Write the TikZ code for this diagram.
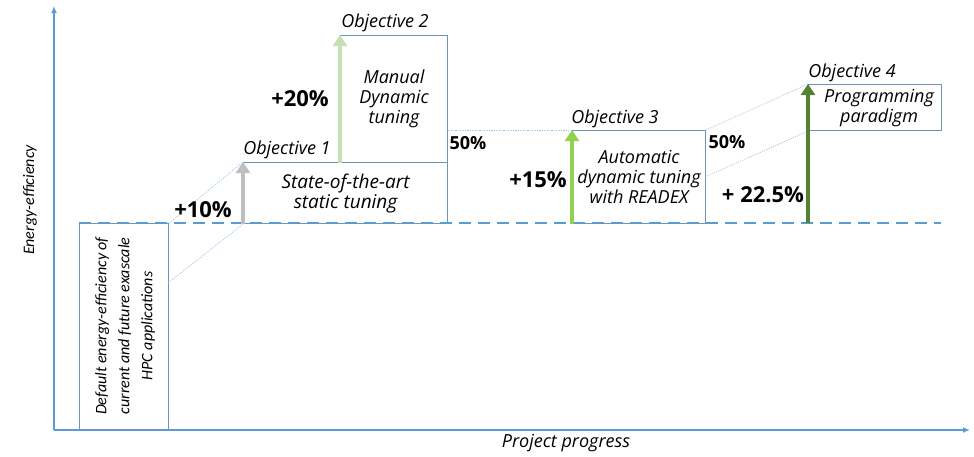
\documentclass[tikz,border=0pt]{standalone}
\usepackage{fontspec}
\setmainfont{Open Sans}
\newfontfamily\calfont{Carlito}
\usetikzlibrary{arrows.meta}
\definecolor{axisblue}{RGB}{91,155,213}
\definecolor{boxblue}{RGB}{112,146,190}
\definecolor{dotblue}{RGB}{157,195,230}
\definecolor{objgray}{RGB}{191,191,191}
\definecolor{objlg}{RGB}{197,224,180}
\definecolor{objg}{RGB}{146,208,80}
\definecolor{objdg}{RGB}{84,130,53}
\begin{document}
\begin{tikzpicture}[x=1pt,y=-1pt,
  box/.style={draw=boxblue, line width=1.1pt, rectangle, inner sep=0pt, anchor=north west, align=center,
    font=\itshape\fontsize{18}{20}\selectfont},
  axisline/.style={draw=axisblue, line width=1.3pt, -{Latex[length=7pt,width=6pt]}},
  baseline/.style={draw=axisblue, line width=2.8pt, dash pattern=on 12pt off 7pt},
  link/.style={draw=dotblue, line width=0.7pt, dash pattern=on 1.2pt off 1.2pt},
  objarrow/.style={line width=4.6pt, -{Triangle[width=14pt,length=11pt]}},
  objlabel/.style={font=\itshape\fontsize{18}{20}\selectfont, inner sep=0pt},
  pct/.style={font=\bfseries\fontsize{22}{24}\selectfont, inner sep=0pt},
  pctsmall/.style={font=\bfseries\fontsize{18}{20}\selectfont, inner sep=0pt},
  axislabel/.style={font=\itshape\fontsize{18}{20}\selectfont, inner sep=0pt}
]
\useasboundingbox (0,0) rectangle (974,456);

% axes
\coordinate (O) at (54,430);
\coordinate (ytop) at (54,6);
\coordinate (xend) at (970,430);
\draw[axisline] (O) -- (ytop);
\draw[axisline] (O) -- (xend);
\node[font=\calfont\itshape\fontsize{16}{18}\selectfont, rotate=90, inner sep=0pt] (ylab) at (30,200) {Energy-efficiency};
\node[axislabel] (xlab) at (566,443) {Project progress};

% boxes
\node[box, minimum width=89pt, minimum height=206pt] (dbox) at (79,223) {};
\node[rotate=90, align=center, inner sep=0pt, font=\calfont\itshape\fontsize{16}{23}\selectfont] (dtext) at (125,326)
  {Default energy-efficiency of\\current and future exascale\\HPC applications};
\node[box, minimum width=204pt, minimum height=61pt, font=\itshape\fontsize{19}{20}\selectfont] (b1) at (243,162) {State-of-the-art\\static tuning};
\node[box, minimum width=107pt, minimum height=127pt] (b2) at (340,35) {Manual\\Dynamic\\tuning};
\node[box, minimum width=133pt, minimum height=93pt] (b3) at (572,130) {Automatic\\dynamic tuning\\with READEX};
\node[box, minimum width=133pt, minimum height=46pt] (b4) at (808,84) {\hspace*{8pt}Programming\\\hspace*{8pt}paradigm};

% baseline
\coordinate (bl1) at (79,223);
\coordinate (bl2) at (941,223);
\draw[baseline] (bl1) -- (bl2);

% dotted links
\coordinate (dmid) at (168,283);
\coordinate (b3mid) at (705,177);
\draw[link] (dbox.north east) -- (b1.north west);
\draw[link] (dmid) -- (b1.south west);
\draw[link] (b2.east |- b3.north) -- (b3.north west);
\draw[link] (b3.north east) -- (b4.north west);
\draw[link] (b3mid) -- (b4.south west);

% objective arrows
\draw[objarrow, objgray] (b1.south west) -- (b1.north west);
\draw[objarrow, objlg] (b2.south west) -- (b2.north west);
\draw[objarrow, objg] (b3.south west) -- (b3.north west);
\draw[objarrow, objdg] (b4.west |- bl1) -- (b4.north west);

% labels
\node[objlabel] (o1) at (287,150) {Objective 1};
\node[objlabel] (o2) at (385,23) {Objective 2};
\node[objlabel] (o3) at (615,119) {Objective 3};
\node[objlabel] (o4) at (852,73) {Objective 4};

\node[pct] (p1) at (203,210) {+10\%};
\node[pct] (p2) at (300,99) {+20\%};
\node[pct] (p3) at (538,180) {+15\%};
\node[pct] (p4) at (763,195) {+ 22.5\%};
\node[pctsmall] (h1) at (468,143) {50\%};
\node[pctsmall] (h2) at (727,142) {50\%};
\end{tikzpicture}
\end{document}
